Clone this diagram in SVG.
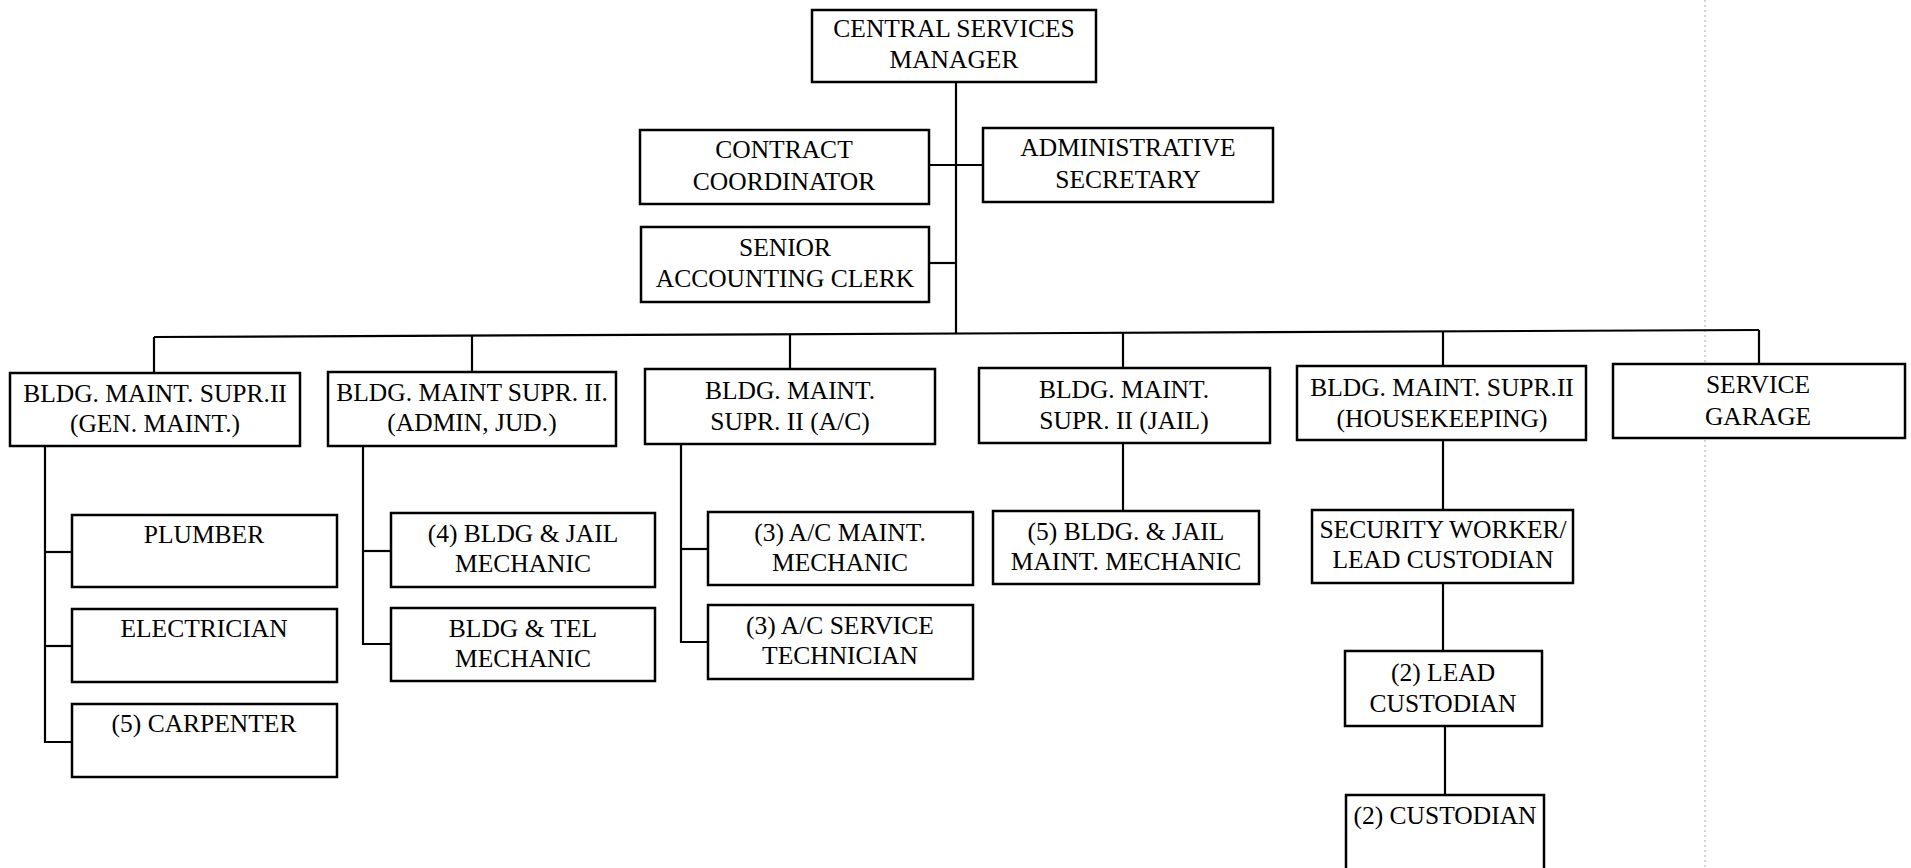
<svg xmlns="http://www.w3.org/2000/svg" width="1911" height="868" viewBox="0 0 1911 868">
<style>
  .box { fill: #ffffff; stroke: #000000; stroke-width: 2.5; }
  .ln { fill: none; stroke: #000000; stroke-width: 2.2; }
  .t { font-family: "Liberation Serif", "Times New Roman", serif; font-size: 25.5px; fill: #000000; text-anchor: middle; }
  .fold { stroke: #b8b8b8; stroke-width: 1.2; stroke-dasharray: 2 3; fill: none; }
</style>
<rect x="0" y="0" width="1911" height="868" fill="#ffffff"/>
<line class="fold" x1="1705" y1="0" x2="1705" y2="868"/>
<g id="connectors">
  <line class="ln" x1="956" y1="82" x2="956" y2="333.5"/>
  <line class="ln" x1="929" y1="165" x2="983" y2="165"/>
  <line class="ln" x1="929" y1="263" x2="956" y2="263"/>
  <line class="ln" x1="154" y1="337" x2="1759" y2="330"/>
  <line class="ln" x1="154" y1="337" x2="154" y2="373"/>
  <line class="ln" x1="472" y1="335.6" x2="472" y2="372"/>
  <line class="ln" x1="790" y1="334.2" x2="790" y2="369"/>
  <line class="ln" x1="1123" y1="332.8" x2="1123" y2="368"/>
  <line class="ln" x1="1443" y1="331.4" x2="1443" y2="366"/>
  <line class="ln" x1="1759" y1="330" x2="1759" y2="364"/>
  <polyline class="ln" points="45,446 45,742 72,742"/>
  <line class="ln" x1="45" y1="552" x2="72" y2="552"/>
  <line class="ln" x1="45" y1="646" x2="72" y2="646"/>
  <polyline class="ln" points="363,446 363,644 391,644"/>
  <line class="ln" x1="363" y1="551" x2="391" y2="551"/>
  <polyline class="ln" points="681,444 681,642 708,642"/>
  <line class="ln" x1="681" y1="549" x2="708" y2="549"/>
  <line class="ln" x1="1123" y1="443" x2="1123" y2="511"/>
  <line class="ln" x1="1443" y1="441" x2="1443" y2="510"/>
  <line class="ln" x1="1443" y1="583" x2="1443" y2="651"/>
  <line class="ln" x1="1445" y1="726" x2="1445" y2="795"/>
</g>
<g id="central-services-manager">
  <rect class="box" x="812" y="10" width="284" height="72"/>
  <text class="t" x="954" y="37">CENTRAL SERVICES</text>
  <text class="t" x="954" y="68">MANAGER</text>
</g>
<g id="contract-coordinator">
  <rect class="box" x="640" y="130" width="289" height="74"/>
  <text class="t" x="784" y="158">CONTRACT</text>
  <text class="t" x="784" y="190">COORDINATOR</text>
</g>
<g id="administrative-secretary">
  <rect class="box" x="983" y="128" width="290" height="74"/>
  <text class="t" x="1128" y="156">ADMINISTRATIVE</text>
  <text class="t" x="1128" y="188">SECRETARY</text>
</g>
<g id="senior-accounting-clerk">
  <rect class="box" x="641" y="227" width="288" height="75"/>
  <text class="t" x="785" y="256">SENIOR</text>
  <text class="t" x="785" y="287">ACCOUNTING CLERK</text>
</g>
<g id="supr-gen-maint">
  <rect class="box" x="10" y="373" width="290" height="73"/>
  <text class="t" x="155" y="402">BLDG. MAINT. SUPR.II</text>
  <text class="t" x="155" y="432">(GEN. MAINT.)</text>
</g>
<g id="supr-admin-jud">
  <rect class="box" x="328" y="372" width="288" height="74"/>
  <text class="t" x="472" y="401">BLDG. MAINT SUPR. II.</text>
  <text class="t" x="472" y="431">(ADMIN, JUD.)</text>
</g>
<g id="supr-ac">
  <rect class="box" x="645" y="369" width="290" height="75"/>
  <text class="t" x="790" y="399">BLDG. MAINT.</text>
  <text class="t" x="790" y="430">SUPR. II (A/C)</text>
</g>
<g id="supr-jail">
  <rect class="box" x="979" y="368" width="291" height="75"/>
  <text class="t" x="1124" y="398">BLDG. MAINT.</text>
  <text class="t" x="1124" y="429">SUPR. II (JAIL)</text>
</g>
<g id="supr-housekeeping">
  <rect class="box" x="1297" y="366" width="289" height="74"/>
  <text class="t" x="1442" y="396">BLDG. MAINT. SUPR.II</text>
  <text class="t" x="1442" y="427">(HOUSEKEEPING)</text>
</g>
<g id="service-garage">
  <rect class="box" x="1613" y="364" width="292" height="74"/>
  <text class="t" x="1758" y="393">SERVICE</text>
  <text class="t" x="1758" y="425">GARAGE</text>
</g>
<g id="plumber">
  <rect class="box" x="72" y="515" width="265" height="72"/>
  <text class="t" x="204" y="543">PLUMBER</text>
</g>
<g id="electrician">
  <rect class="box" x="72" y="609" width="265" height="73"/>
  <text class="t" x="204" y="637">ELECTRICIAN</text>
</g>
<g id="carpenter">
  <rect class="box" x="72" y="704" width="265" height="73"/>
  <text class="t" x="204" y="732">(5) CARPENTER</text>
</g>
<g id="bldg-jail-mechanic">
  <rect class="box" x="391" y="513" width="264" height="74"/>
  <text class="t" x="523" y="542">(4) BLDG &amp; JAIL</text>
  <text class="t" x="523" y="572">MECHANIC</text>
</g>
<g id="bldg-tel-mechanic">
  <rect class="box" x="391" y="608" width="264" height="73"/>
  <text class="t" x="523" y="637">BLDG &amp; TEL</text>
  <text class="t" x="523" y="667">MECHANIC</text>
</g>
<g id="ac-maint-mechanic">
  <rect class="box" x="708" y="512" width="265" height="73"/>
  <text class="t" x="840" y="541">(3) A/C MAINT.</text>
  <text class="t" x="840" y="571">MECHANIC</text>
</g>
<g id="ac-service-technician">
  <rect class="box" x="708" y="605" width="265" height="74"/>
  <text class="t" x="840" y="634">(3) A/C SERVICE</text>
  <text class="t" x="840" y="664">TECHNICIAN</text>
</g>
<g id="bldg-jail-maint-mechanic">
  <rect class="box" x="993" y="511" width="266" height="73"/>
  <text class="t" x="1126" y="540">(5) BLDG. &amp; JAIL</text>
  <text class="t" x="1126" y="570">MAINT. MECHANIC</text>
</g>
<g id="security-worker">
  <rect class="box" x="1312" y="510" width="261" height="73"/>
  <text class="t" x="1443" y="538">SECURITY WORKER/</text>
  <text class="t" x="1443" y="568">LEAD CUSTODIAN</text>
</g>
<g id="lead-custodian">
  <rect class="box" x="1345" y="651" width="197" height="75"/>
  <text class="t" x="1443" y="681">(2) LEAD</text>
  <text class="t" x="1443" y="712">CUSTODIAN</text>
</g>
<g id="custodian">
  <rect class="box" x="1346" y="795" width="198" height="90"/>
  <text class="t" x="1445" y="824">(2) CUSTODIAN</text>
</g>
</svg>
